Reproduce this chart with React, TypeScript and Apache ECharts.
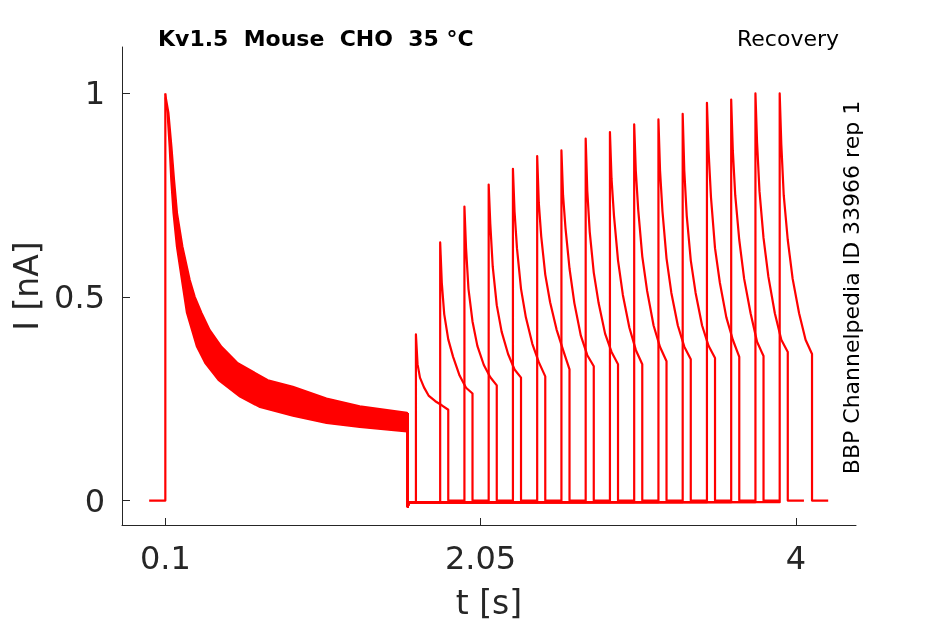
import React, { useEffect, useRef } from "react";
import * as echarts from "echarts";

// ---- tick labels ----
const xTicks = [0.1, 2.05, 4];
const yTicks = [0, 0.5, 1];

// ---- conditioning pulse (shared by all sweeps) ----
const sweepStart = 0;
const condOnset = 0.1;
const condEnd = 1.6;
const condPeak = 1.0;
const postCondDip = -0.015;
const preTestBaseline = -0.004;
const postTestBaseline = 0;

// upper / lower envelope of the 16 overlapping conditioning traces
const condUpperT = [0.1, 0.121, 0.1395, 0.1556, 0.174, 0.2075, 0.2526, 0.2835, 0.325, 0.376, 0.4485, 0.549, 0.7345, 0.889, 1.097, 1.3027, 1.5955, 1.6];
const condUpperI = [1.0, 0.952, 0.869, 0.7875, 0.706, 0.6236, 0.542, 0.5007, 0.461, 0.419, 0.378, 0.338, 0.296, 0.28, 0.251, 0.232, 0.216, 0.215];
const condLowerT = [0.1, 0.112, 0.125, 0.135, 0.149, 0.17, 0.201, 0.232, 0.294, 0.345, 0.4275, 0.5615, 0.685, 0.889, 1.097, 1.3027, 1.5955, 1.6];
const condLowerI = [0.99, 0.952, 0.869, 0.7875, 0.706, 0.6236, 0.542, 0.461, 0.378, 0.338, 0.296, 0.255, 0.229, 0.2076, 0.19, 0.18, 0.169, 0.168];

// ---- test pulses ----
const testStart = [1.65, 1.8, 1.95, 2.1, 2.25, 2.4, 2.55, 2.7, 2.85, 3.0, 3.15, 3.3, 3.45, 3.6, 3.75, 3.9];
const testPeak = [0.408, 0.634, 0.722, 0.776, 0.815, 0.846, 0.86, 0.889, 0.905, 0.924, 0.936, 0.95, 0.977, 0.985, 1.0, 1.0];
const decayOffsets = [0.01, 0.025, 0.05, 0.08, 0.12, 0.16, 0.2];
const decay1 = [0.335, 0.302, 0.278, 0.257, 0.244, 0.234, 0.223];
const decay2 = [0.535, 0.458, 0.396, 0.353, 0.307, 0.277, 0.263];
const decay3 = [0.62, 0.52, 0.44, 0.38, 0.333, 0.303, 0.283];
const decay4 = [0.68, 0.575, 0.48, 0.415, 0.36, 0.322, 0.302];
const decay5 = [0.71, 0.62, 0.52, 0.45, 0.385, 0.34, 0.305];
const decay6 = [0.731, 0.649, 0.555, 0.487, 0.42, 0.37, 0.322];
const decay7 = [0.75, 0.67, 0.57, 0.485, 0.405, 0.357, 0.33];
const decay8 = [0.76, 0.66, 0.56, 0.485, 0.41, 0.365, 0.335];
const decay9 = [0.79, 0.7, 0.59, 0.505, 0.425, 0.37, 0.335];
const decay10 = [0.81, 0.714, 0.6, 0.515, 0.43, 0.377, 0.342];
const decay11 = [0.81, 0.71, 0.595, 0.51, 0.43, 0.378, 0.347];
const decay12 = [0.81, 0.7, 0.59, 0.51, 0.43, 0.38, 0.35];
const decay13 = [0.86, 0.745, 0.62, 0.535, 0.45, 0.395, 0.353];
const decay14 = [0.86, 0.75, 0.64, 0.545, 0.46, 0.39, 0.355];
const decay15 = [0.88, 0.76, 0.645, 0.55, 0.46, 0.395, 0.365];
const decay16 = [0.875, 0.75, 0.64, 0.545, 0.46, 0.395, 0.36];
const decays = [decay1, decay2, decay3, decay4, decay5, decay6, decay7, decay8, decay9, decay10, decay11, decay12, decay13, decay14, decay15, decay16];
const testDuration = 0.2;
const tailDuration = 0.1;

const RED = "#ff0000";
const AXIS = "#262626";
const FONT = "DejaVu Sans";
const LW = 2.2;

export default function App() {
  const ref = useRef<HTMLDivElement>(null);
  useEffect(() => {
    if (!ref.current) return;
    const chart = echarts.init(ref.current, undefined, { renderer: "svg" });

    const upperPts = condUpperT.map((t, i) => [t, condUpperI[i]]);
    const lowerPts = condLowerT.map((t, i) => [t, condLowerI[i]]);

    const line = (data: number[][], width = LW) => ({
      type: "line",
      data,
      showSymbol: false,
      lineStyle: { color: RED, width, join: "round" },
      silent: true,
    });

    const series: any[] = [];
    series.push(line([[sweepStart, 0], [condOnset, 0], [condOnset, condPeak]]));
    series.push({
      type: "custom",
      coordinateSystem: "cartesian2d",
      data: [[condOnset, condPeak]],
      silent: true,
      renderItem: (_p: any, api: any) => {
        const pts = [
          ...upperPts.map((p) => api.coord(p)),
          ...lowerPts.slice().reverse().map((p) => api.coord(p)),
        ];
        return { type: "polygon", shape: { points: pts }, style: { fill: RED } };
      },
    });
    series.push(line(upperPts, 1.6));
    series.push(line(lowerPts, 1.6));

    testStart.forEach((s, k) => {
      const d: number[][] = [
        [condEnd, condUpperI[condUpperI.length - 1]],
        [condEnd, postCondDip],
        [condEnd + 0.004, preTestBaseline],
        [s, preTestBaseline],
        [s, testPeak[k]],
      ];
      decayOffsets.forEach((o, i) => d.push([s + o, decays[k][i]]));
      d.push([s + testDuration, postTestBaseline]);
      d.push([s + testDuration + tailDuration, postTestBaseline]);
      series.push(line(d));
    });

    chart.setOption({
      animation: false,
      grid: { left: 122, right: 89, top: 47, bottom: 99, containLabel: false },
      xAxis: {
        type: "value",
        min: -0.168,
        max: 4.372,
        name: "t [s]",
        nameLocation: "middle",
        nameGap: 61,
        nameTextStyle: { fontSize: 33, color: AXIS, fontFamily: FONT },
        axisLine: { show: true, onZero: false, lineStyle: { color: AXIS, width: 1 } },
        axisTick: { show: true, inside: true, length: 7, customValues: xTicks, lineStyle: { color: AXIS } },
        axisLabel: {
          customValues: xTicks,
          fontSize: 32,
          color: AXIS,
          fontFamily: FONT,
          margin: 17,
          formatter: (v: number) => String(v),
        },
        splitLine: { show: false },
      },
      yAxis: {
        type: "value",
        min: -0.06,
        max: 1.114,
        name: "I [nA]",
        nameLocation: "middle",
        nameGap: 76,
        nameTextStyle: { fontSize: 33, color: AXIS, fontFamily: FONT },
        axisLine: { show: true, onZero: false, lineStyle: { color: AXIS, width: 1 } },
        axisTick: { show: true, inside: true, length: 8, customValues: yTicks, lineStyle: { color: AXIS } },
        axisLabel: {
          customValues: yTicks,
          fontSize: 32,
          color: AXIS,
          fontFamily: FONT,
          margin: 17,
          formatter: (v: number) => String(v),
        },
        splitLine: { show: false },
      },
      graphic: [
        {
          type: "text",
          left: 158,
          top: 27,
          style: { text: "Kv1.5  Mouse  CHO  35 °C", fontSize: 22, fontWeight: "bold", fontFamily: FONT, fill: "#000" },
        },
        {
          type: "text",
          right: 106,
          top: 27,
          style: { text: "Recovery", fontSize: 22, fontFamily: FONT, fill: "#000" },
        },
        {
          type: "text",
          x: 851,
          y: 287.5,
          rotation: Math.PI / 2,
          style: {
            text: "BBP Channelpedia ID 33966 rep 1",
            fontSize: 22,
            fontFamily: FONT,
            fill: "#000",
            align: "center",
            verticalAlign: "middle",
          },
        },
      ],
      series,
    });
    return () => chart.dispose();
  }, []);
  return <div ref={ref} style={{ position: "fixed", left: 0, top: 0, width: 945, height: 624 }} />;
}
